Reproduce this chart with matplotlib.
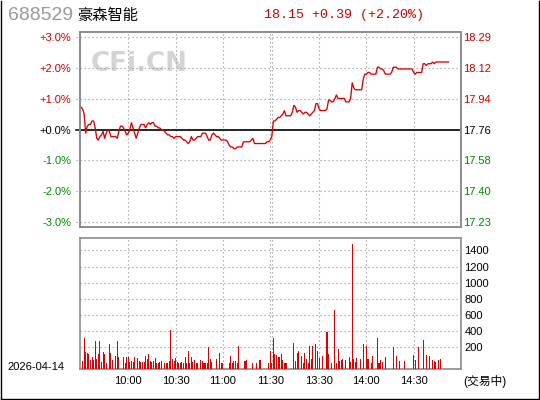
import matplotlib
matplotlib.use("Agg")
import matplotlib.pyplot as plt
import matplotlib.transforms as mtransforms
from matplotlib.lines import Line2D
import numpy as np

plt.rcParams['font.family'] = ['Liberation Sans', 'Noto Sans CJK SC', 'DejaVu Sans']

# ---------------- data ----------------
stock_code = "688529"
stock_name = "豪森智能"
quote_text = "18.15 +0.39 (+2.20%)"
prev_close = 17.76
date_label = "2026-04-14"
status_label = "(交易中)"

# one value per trading minute (0 = 9:30, 120 = 11:30, 121 = 13:00)
price = [
    17.89, 17.88, 17.85, 17.74, 17.78, 17.79, 17.79, 17.81, 17.81, 17.77,
    17.71, 17.70, 17.72, 17.73, 17.75, 17.71, 17.74, 17.76, 17.75, 17.72,
    17.72, 17.72, 17.72, 17.71, 17.75, 17.78, 17.78, 17.77, 17.75, 17.73,
    17.74, 17.76, 17.80, 17.77, 17.74, 17.71, 17.74, 17.77, 17.79, 17.79,
    17.79, 17.77, 17.79, 17.80, 17.79, 17.80, 17.80, 17.78, 17.78, 17.77,
    17.77, 17.76, 17.76, 17.75, 17.74, 17.73, 17.73, 17.72, 17.72, 17.71,
    17.72, 17.72, 17.72, 17.72, 17.71, 17.70, 17.70, 17.69, 17.68, 17.69,
    17.72, 17.70, 17.70, 17.71, 17.72, 17.72, 17.72, 17.74, 17.74, 17.74,
    17.72, 17.70, 17.70, 17.73, 17.74, 17.73, 17.72, 17.72, 17.71, 17.70,
    17.70, 17.70, 17.70, 17.69, 17.67, 17.66, 17.66, 17.65, 17.65, 17.66,
    17.66, 17.66, 17.66, 17.69, 17.69, 17.69, 17.69, 17.69, 17.70, 17.71,
    17.68, 17.68, 17.68, 17.68, 17.68, 17.68, 17.68, 17.68, 17.69, 17.69,
    17.70, 17.72, 17.81, 17.81, 17.82, 17.83, 17.83, 17.84, 17.85, 17.87,
    17.84, 17.84, 17.84, 17.84, 17.86, 17.90, 17.89, 17.86, 17.87, 17.87,
    17.86, 17.85, 17.86, 17.86, 17.85, 17.84, 17.85, 17.86, 17.87, 17.91,
    17.91, 17.88, 17.87, 17.87, 17.87, 17.87, 17.88, 17.93, 17.93, 17.92,
    17.92, 17.94, 17.96, 17.94, 17.94, 17.94, 17.94, 17.94, 17.92, 17.92,
    17.92, 17.94, 18.03, 18.00, 17.99, 17.99, 17.99, 17.99, 17.99, 18.05,
    18.08, 18.08, 18.09, 18.09, 18.08, 18.08, 18.08, 18.08, 18.12, 18.12,
    18.11, 18.11, 18.10, 18.08, 18.08, 18.08, 18.08, 18.09, 18.12, 18.12,
    18.12, 18.11, 18.11, 18.11, 18.11, 18.11, 18.11, 18.11, 18.11, 18.11,
    18.11, 18.09, 18.08, 18.09, 18.09, 18.09, 18.09, 18.14, 18.14, 18.13,
    18.14, 18.14, 18.14, 18.15, 18.14, 18.15, 18.15, 18.15, 18.15, 18.15,
    18.15, 18.15, 18.15, 18.15,
]

volume = [
    0, 31, 315, 142, 134, 118, 43, 80, 43, 278,
    56, 118, 278, 19, 142, 118, 6, 0, 241, 130,
    43, 0, 93, 278, 80, 0, 0, 80, 6, 80,
    80, 19, 31, 19, 80, 0, 68, 31, 19, 19,
    19, 93, 56, 118, 31, 19, 31, 68, 6, 6,
    19, 31, 0, 6, 6, 6, 31, 414, 56, 31,
    68, 19, 6, 6, 19, 6, 80, 6, 155, 6,
    80, 19, 43, 6, 6, 0, 43, 31, 6, 6,
    6, 204, 56, 19, 0, 0, 56, 0, 130, 6,
    6, 0, 0, 0, 6, 93, 6, 31, 31, 6,
    216, 0, 0, 0, 31, 43, 0, 0, 0, 6,
    0, 6, 0, 43, 43, 0, 0, 0, 0, 6,
    155, 6, 315, 118, 105, 80, 80, 118, 43, 6,
    6, 0, 0, 0, 0, 253, 31, 130, 155, 0,
    93, 6, 130, 56, 6, 216, 56, 216, 0, 241,
    155, 68, 0, 93, 0, 0, 389, 118, 0, 6,
    0, 661, 6, 179, 31, 43, 56, 0, 43, 0,
    80, 19, 1478, 56, 19, 68, 0, 56, 0, 241,
    0, 216, 56, 0, 6, 93, 0, 0, 315, 6,
    43, 19, 0, 80, 0, 0, 0, 0, 204, 0,
    93, 0, 31, 0, 0, 31, 0, 0, 0, 0,
    0, 105, 43, 0, 204, 0, 0, 290, 0, 105,
    0, 93, 0, 43, 31, 19, 0, 43, 56, 0,
    0, 0, 0, 0,
]

time_tick_pos = [30, 60, 90, 120, 151, 181, 211]
time_tick_labels = ["10:00", "10:30", "11:00", "11:30", "13:30", "14:00", "14:30"]
grid_minutes = [30, 60, 90, 120, 121, 151, 181, 211]
pct_ticks = [3, 2, 1, 0, -1, -2, -3]
vol_ticks = [200, 400, 600, 800, 1000, 1200, 1400]

# ---------------- styles ----------------
RED = '#dd0000'
LABEL_RED = '#cc0000'
GREEN = '#008800'
GRID = '#a0a0a0'
BORDER = '#8c8c8c'
DOT = (0, (1.2, 2.4))

W, H = 540, 400
fig = plt.figure(figsize=(W / 100, H / 100), dpi=100)
fig.patch.set_facecolor('white')


def box(l, t, r, b):
    return [l / W, 1 - b / H, (r - l) / W, (b - t) / H]


X_LO, X_HI = -0.63, 240.8

# ---------------- price panel ----------------
ax = fig.add_axes(box(80, 31.7, 460.7, 227))
x = np.arange(len(price))
pct = (np.array(price) / prev_close - 1) * 100
ax.set_xlim(X_LO, X_HI)
ax.set_ylim(-3.16, 3.18)

for k in pct_ticks:
    if k != 0:
        ax.axhline(k, color=GRID, lw=0.8, ls=DOT, zorder=1)
for m in grid_minutes:
    ax.axvline(m, color=GRID, lw=0.8, ls=DOT, zorder=1)

# short dotted tick marks outside left border
trans = mtransforms.blended_transform_factory(ax.transAxes, ax.transData)
for k in pct_ticks:
    ax.add_line(Line2D([-4.5 / 380.7, 0], [k, k], transform=trans, color=GRID if k else 'black',
                       lw=0.8 if k else 1.1, ls=DOT if k else '-', clip_on=False))

ax.axhline(0, color='black', lw=1.2, zorder=2)
ax.text(0.027, 0.835, "CFi.CN", transform=ax.transAxes, fontsize=18.8, fontweight='bold',
        color='#d4d4d4', va='center', ha='left', zorder=0, family='DejaVu Sans')
ax.plot(x, pct, color=RED, lw=0.95, zorder=3)

ax.set_xticks([])
ax.set_yticks(pct_ticks)
ax.set_yticklabels([f"{k:+.1f}%" for k in pct_ticks])
ax.tick_params(axis='y', length=0, pad=6.2, labelsize=8)
for lab, k in zip(ax.get_yticklabels(), pct_ticks):
    lab.set_color(LABEL_RED if k > 0 else (GREEN if k < 0 else 'black'))

axr = ax.twinx()
axr.set_ylim(ax.get_ylim())
axr.set_yticks(pct_ticks)
axr.set_yticklabels([f"{prev_close * (1 + k / 100):.2f}" for k in pct_ticks])
axr.tick_params(axis='y', length=0, pad=1.6, labelsize=8)
for lab, k in zip(axr.get_yticklabels(), pct_ticks):
    lab.set_color(LABEL_RED if k > 0 else (GREEN if k < 0 else 'black'))

for a in (ax, axr):
    for s in a.spines.values():
        s.set_color(BORDER)
        s.set_linewidth(1.2)

# ---------------- volume panel ----------------
axv = fig.add_axes(box(80, 238.3, 460.7, 369.3))
VLO, VHI = -72, 1549
axv.set_xlim(X_LO, X_HI)
axv.set_ylim(VLO, VHI)
for v in vol_ticks:
    axv.axhline(v, color=GRID, lw=0.8, ls=DOT, zorder=1)
for m in grid_minutes:
    axv.axvline(m, color=GRID, lw=0.8, ls=DOT, zorder=1)

vx = np.arange(len(volume))
vv = np.array(volume, dtype=float)
mask = vv > 0
axv.bar(vx[mask], vv[mask] - VLO, bottom=VLO, width=0.66, color=RED, zorder=3,
        linewidth=0, antialiased=False)

axv.yaxis.tick_right()
axv.set_yticks(vol_ticks)
axv.set_yticklabels([str(v) for v in vol_ticks])
axv.tick_params(axis='y', length=0, pad=2.6, labelsize=8)
axv.set_xticks(time_tick_pos)
axv.set_xticklabels(time_tick_labels)
axv.tick_params(axis='x', length=0, pad=5.0, labelsize=8)
for s in axv.spines.values():
    s.set_color(BORDER)
    s.set_linewidth(1.2)

# ---------------- texts ----------------
fig.text(8 / W, 1 - 15 / H, stock_code, fontsize=14, color='#9a9a9a', va='center', ha='left')
fig.text(77 / W, 1 - 15 / H, stock_name, fontsize=11, color='black', va='center', ha='left',
         family=['Noto Sans CJK SC', 'DejaVu Sans'])
fig.text(264 / W, 1 - 15 / H, quote_text, fontsize=9.6, color=LABEL_RED, va='center', ha='left',
         family=['Liberation Mono', 'DejaVu Sans Mono'])
fig.text(7 / W, 1 - 367 / H, date_label, fontsize=8, color='black', va='center', ha='left')
fig.text(463 / W, 1 - 382 / H, status_label, fontsize=8.5, color='black', va='center', ha='left')

# outer frame
for seg in ([0.5, 0.5], [0.5, 398.5]), ([538.5, 538.5], [0.5, 398.5]), ([0.5, 538.5], [398.5, 398.5]):
    fig.add_artist(Line2D([seg[0][0] / W, seg[0][1] / W], [1 - seg[1][0] / H, 1 - seg[1][1] / H],
                          transform=fig.transFigure, color='black', lw=1.0))

fig.savefig("out.png", dpi=100)
